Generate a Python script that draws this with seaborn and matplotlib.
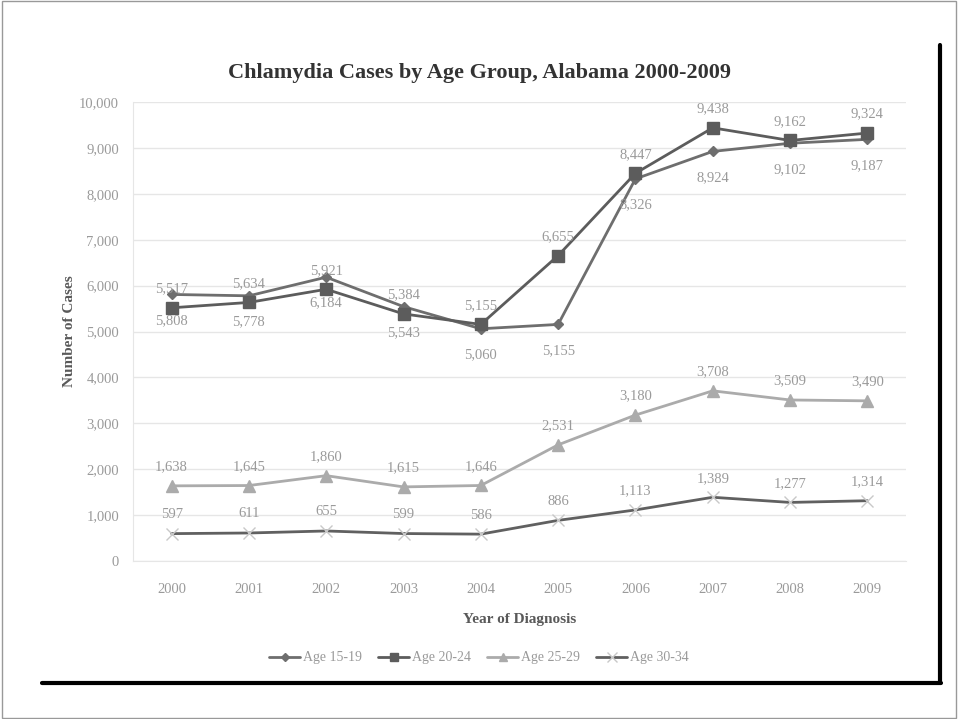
import pandas as pd
import matplotlib.pyplot as plt
import seaborn as sns

# Data
years = ["2000", "2001", "2002", "2003", "2004", "2005", "2006", "2007", "2008", "2009"]
age_15_19 = [5808, 5778, 6184, 5543, 5060, 5155, 8326, 8924, 9102, 9187]
age_20_24 = [5517, 5634, 5921, 5384, 5155, 6655, 8447, 9438, 9162, 9324]
age_25_29 = [1638, 1645, 1860, 1615, 1646, 2531, 3180, 3708, 3509, 3490]
age_30_34 = [597, 611, 655, 599, 586, 886, 1113, 1389, 1277, 1314]
groups = ["Age 15-19", "Age 20-24", "Age 25-29", "Age 30-34"]

series = dict(zip(groups, [age_15_19, age_20_24, age_25_29, age_30_34]))
df = pd.DataFrame([(g, y, v) for g, vals in series.items() for y, v in zip(years, vals)],
                  columns=["Group", "Year", "Cases"])

sns.set_style("white")
plt.rcParams["font.family"] = ["Liberation Serif", "DejaVu Serif"]

colors = {"Age 15-19": "#6e6e6e", "Age 20-24": "#5c5c5c", "Age 25-29": "#ababab", "Age 30-34": "#606060"}
markers = {"Age 15-19": "D", "Age 20-24": "s", "Age 25-29": "^", "Age 30-34": "x"}
msizes = {"Age 15-19": 5, "Age 20-24": 8, "Age 25-29": 8, "Age 30-34": 9}
medge = {"Age 15-19": "#6e6e6e", "Age 20-24": "#5c5c5c", "Age 25-29": "#ababab", "Age 30-34": "#c8c8c8"}

fig = plt.figure(figsize=(9.58, 7.19), dpi=100)
ax = fig.add_axes([0.1388, 0.2197, 0.8069, 0.6384])

for g in groups:
    sub = df[df["Group"] == g]
    sns.lineplot(data=sub, x="Year", y="Cases", color=colors[g], marker=markers[g],
                 markersize=msizes[g], markeredgecolor=medge[g], markeredgewidth=1,
                 linewidth=2, ax=ax, sort=False, label=g)
ax.get_legend().remove()

# data labels: 15-19 below the point, others above
for g, vals in series.items():
    off = -14 if g == "Age 15-19" else 9
    va = "top" if off < 0 else "bottom"
    for i, v in enumerate(vals):
        ax.annotate(f"{v:,}", (i, v), xytext=(0, off), textcoords="offset points",
                    ha="center", va=va, fontsize=10.5, color="#9a9a9a")

ax.set_xlim(-0.5, 9.5)
ax.set_ylim(0, 10000)
ax.set_yticks(range(0, 10001, 1000))
ax.set_yticklabels([f"{t:,}" for t in range(0, 10001, 1000)])
ax.yaxis.grid(True, color="#e6e6e6", linewidth=1)
ax.tick_params(axis="both", length=0, labelsize=10.5, labelcolor="#9a9a9a", pad=10)
ax.tick_params(axis="x", pad=16)
for s in ["top", "right"]:
    ax.spines[s].set_visible(False)
ax.spines["left"].set_color("#e6e6e6")
ax.spines["bottom"].set_color("#e6e6e6")

ax.set_xlabel("Year of Diagnosis", fontsize=11, fontweight="bold", color="#595959", labelpad=12)
ax.set_ylabel("Number of Cases", fontsize=11, fontweight="bold", color="#595959", labelpad=2)
fig.text(0.5, 0.892, "Chlamydia Cases by Age Group, Alabama 2000-2009", ha="center",
         fontsize=16, fontweight="bold", color="#333333")

handles = [plt.Line2D([], [], color=colors[g], marker=markers[g], markersize=msizes[g] * 0.8,
                      linewidth=2, markeredgecolor=medge[g]) for g in groups]
fig.legend(handles, groups, loc="center", bbox_to_anchor=(0.5, 0.085), ncol=4, frameon=False,
           fontsize=10, labelcolor="#9a9a9a", handlelength=2.2, handletextpad=0.2, columnspacing=1.2)

# frame: thin outer border and thick black shadow lines
fig.add_artist(plt.Rectangle((0.002, 0.002), 0.996, 0.996, transform=fig.transFigure,
                             fill=False, edgecolor="#999999", linewidth=1))
fig.add_artist(plt.Line2D([0.981, 0.981], [0.05, 0.938], transform=fig.transFigure,
                          color="black", linewidth=3))
fig.add_artist(plt.Line2D([0.044, 0.982], [0.05, 0.05], transform=fig.transFigure,
                          color="black", linewidth=3))

plt.savefig("out.png", dpi=100)
